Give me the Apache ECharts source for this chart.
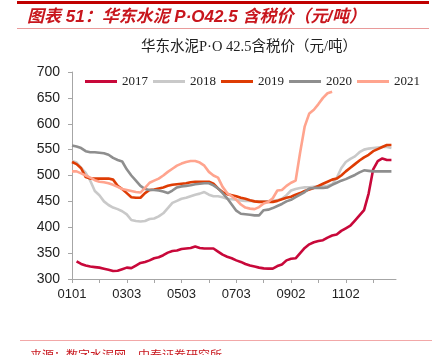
<!DOCTYPE html>
<html>
<head>
<meta charset="utf-8">
<script src="https://cdn.jsdelivr.net/npm/echarts@6/dist/echarts.min.js"></script>
<style>
html,body{margin:0;padding:0;background:#fff;}
#chart{width:437px;height:355px;}
</style>
</head>
<body>
<div id="chart"></div>
<script>
var categories = [
'0101','0106','0111','0116','0121','0126','0131','0205','0210','0215','0220','0225',
'0303','0308','0313','0318','0323','0328','0402','0407','0412','0417','0422','0427',
'0503','0508','0513','0518','0523','0528','0602','0607','0612','0617','0622','0627',
'0703','0708','0713','0718','0723','0728','0802','0807','0812','0817','0822','0827',
'0902','0907','0912','0917','0922','0927','1002','1007','1012','1017','1022','1027',
'1102','1107','1112','1117','1122','1127','1202','1207','1212','1217','1222','1227'
];
var seriesNames = ['2017','2018','2019','2020','2021'];
var data2017 = [null,334,329,326,324,323,322,320,318,315.5,316,319,
322,321,326,331,333,336,340,342,346,351,354,355,
358,359,360,363,360,359,359,359,353,347,343,340,
336,333,329,326,324,322,320.5,320,320,325,328,336,
339,340,350,360,367,371,373.5,375,380,384,386,393,
398,403,413,423,433,465,512,528,533,530,530];
var data2018 = [528,525,515,505,490,470,462,450,443,438,435,431,
425,414,412,411,412,416,417,421,427,437,447,451,
455,457,460,463,465,468,463,460,460,458,455,454,
453,452,451,451,450,450,450,450,451,452,455,462,
471,474,476,477,477,478,479,479,480,483,495,514,
526,532,537,545,550,552,553,554,555,555,553];
var data2019 = [526,522,514,497,494,494,494,494,494,492,480,474,
466,458,457,457,466,472,473,475,477,480,482,483,
484,485,487,488,488,488,488,484,475,468,464,462,
460,457,455,452,450,449,449,449,449,451,454,457,
459,463,466,470,473,476,480,484,488,492,494,500,
508,515,522,529,535,540,547,551,555,559,559];
var data2020 = [558,556,553,547,545,545,544,543,540,534,530,527,
512,500,490,480,474,472,472,471,469,466,471,477,
479,480,481,483,484,485,485,481,475,466,456,444,
432,426,425,424,423,423,433,434,437,441,445,450,
453,458,463,468,475,476,476,476,477,482,486,490,
493,497,501,506,510,509,508,508,508,508,508];
var data2021 = [508,508,504,500,496,491,488,487,485,482,478,474,
472,470,468,467,476,486,490,494,500,507,513,519,
523,526,528,528,525,519,507,500,496,478,466,460,
453,444,438,436,435,439,446,449,456,471,472,480,
486,490,545,595,620,627,638,650,659,662];
var yTicks = {min:300, max:700, step:50};
var colors = ['#C8083A','#C9C9C9','#DE3C04','#8E8E8E','#FFA48E'];

var chart = echarts.init(document.getElementById('chart'), null, {renderer:'canvas'});
var allData = [data2017,data2018,data2019,data2020,data2021];
var series = seriesNames.map(function(n,i){
  return {name:n, type:'line', data:allData[i], showSymbol:false, symbol:'none',
    lineStyle:{width:2.6, color:colors[i]}, itemStyle:{color:colors[i]},
    connectNulls:false, animation:false};
});
var option = {
  animation:false,
  grid:{left:72, right:41, top:72, bottom:76},
  legend:{data:seriesNames, left:80, top:70, icon:'rect', itemWidth:32, itemHeight:3, itemGap:5,
    textStyle:{fontFamily:"'Liberation Serif', serif", fontSize:13, color:'#222'}},
  xAxis:{type:'category', data:categories, boundaryGap:false,
    axisLine:{lineStyle:{color:'#A6A6A6', width:1}},
    axisTick:{show:true, interval:5, length:4, lineStyle:{color:'#A6A6A6'}},
    axisLabel:{interval:11, margin:9, fontFamily:"'Liberation Sans', Arial", fontSize:13, color:'#222'},
    splitLine:{show:false}},
  yAxis:{type:'value', min:yTicks.min, max:yTicks.max, interval:yTicks.step,
    axisLine:{show:true, lineStyle:{color:'#A6A6A6', width:1}},
    axisTick:{show:true, length:4, lineStyle:{color:'#A6A6A6'}},
    axisLabel:{margin:12, fontFamily:"'Liberation Sans', Arial", fontSize:14, color:'#222'},
    splitLine:{show:false}},
  graphic:[
    {type:'rect', shape:{x:17, y:1, width:412, height:3}, style:{fill:'#C00000'}},
    {type:'text', x:27, y:17, style:{text:'图表 51：华东水泥 P·O42.5 含税价（元/吨）', fill:'#C8161D',
      font:"italic bold 17px 'Liberation Sans', 'Noto Sans CJK SC'", textVerticalAlign:'middle'}},
    {type:'line', shape:{x1:17, y1:28.5, x2:429, y2:28.5}, style:{stroke:'#E99A9A', lineWidth:1}},
    {type:'text', x:249, y:47.5, style:{text:'华东水泥P·O 42.5含税价（元/吨）', fill:'#222',
      font:"14.5px 'Liberation Serif', 'Noto Sans CJK SC'", textAlign:'center', textVerticalAlign:'middle'}},
    {type:'line', shape:{x1:20, y1:340.5, x2:432, y2:340.5}, style:{stroke:'#F2A8A8', lineWidth:1}},
    {type:'text', x:30, y:349, style:{text:'来源：数字水泥网，中泰证券研究所', fill:'#C8161D',
      font:"12px 'Noto Sans CJK SC'", textVerticalAlign:'top'}}
  ],
  series:series
};
chart.setOption(option);
</script>
</body>
</html>
